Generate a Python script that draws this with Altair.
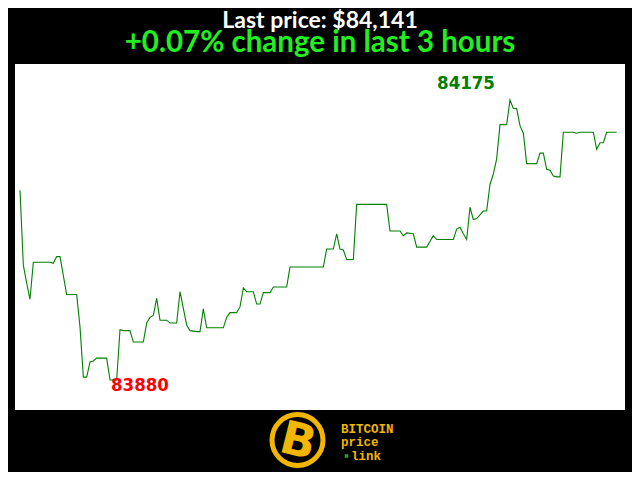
import altair as alt
import pandas as pd

# minute index within the last 3 hours (vertices of the price line)
minutes = [0, 1, 2, 3, 4, 9, 10, 11, 12, 14, 17, 18, 19, 20, 21, 22, 23, 26, 27, 29,
           30, 31, 33, 34, 37, 38, 39, 40, 41, 42, 44, 45, 47, 48, 50, 51, 53, 54, 55, 56,
           61, 62, 63, 65, 66, 67, 68, 70, 71, 72, 73, 75, 76, 80, 81, 91, 92, 94, 95, 96,
           97, 98, 100, 101, 110, 111, 114, 115, 116, 118, 119, 122, 124, 125, 126, 130, 131, 132, 133, 134,
           135, 136, 137, 138, 139, 140, 141, 142, 143, 144, 146, 147, 148, 149, 150, 151, 152, 155, 156, 157,
           158, 159, 160, 161, 162, 163, 166, 167, 168, 172, 173, 174, 175, 176, 179]
prices = [84080, 84001, 83982, 83965, 84004, 84004, 84003, 84010, 84010, 83970, 83970, 83936, 83883, 83883, 83899, 83900, 83903, 83903, 83880, 83880,
          83933, 83932, 83932, 83920, 83920, 83940, 83946, 83948, 83966, 83943, 83943, 83940, 83940, 83973, 83938, 83932, 83931, 83931, 83955, 83935,
          83935, 83946, 83951, 83951, 83957, 83977, 83973, 83973, 83960, 83960, 83972, 83972, 83978, 83978, 83999, 83999, 84018, 84018, 84034, 84018,
          84017, 84007, 84007, 84065, 84065, 84037, 84037, 84032, 84035, 84034, 84020, 84020, 84032, 84028, 84028, 84028, 84039, 84041, 84034, 84028,
          84062, 84049, 84050, 84054, 84058, 84058, 84086, 84097, 84113, 84149, 84149, 84175, 84166, 84166, 84148, 84140, 84108, 84108, 84119, 84119,
          84102, 84101, 84095, 84094, 84094, 84141, 84141, 84140, 84141, 84141, 84123, 84130, 84130, 84141, 84141]

title_text = "Last price: $84,141"
subtitle_text = "+0.07% change in last 3 hours"
max_label = ["84175"]
min_label = ["83880"]
logo_lines = ["BITCOIN", "price", "link"]

df = pd.DataFrame({"t": minutes, "p": prices})
imax = prices.index(max(prices))
imin = prices.index(min(prices))
df_max = pd.DataFrame({"t": [minutes[imax]], "p": [prices[imax]], "label": max_label})
df_min = pd.DataFrame({"t": [minutes[imin]], "p": [prices[imin]], "label": min_label})

W, H = 610, 346
xs = alt.Scale(domain=[-1.5, 181.5], nice=False, zero=False)
ys = alt.Scale(domain=[83848.4, 84212.9], nice=False, zero=False)

line = alt.Chart(df).mark_line(color="#008000", strokeWidth=1.1).encode(
    x=alt.X("t:Q", scale=xs, axis=None),
    y=alt.Y("p:Q", scale=ys, axis=None),
)

maxtxt = alt.Chart(df_max).mark_text(
    font="DejaVu Sans Condensed", fontWeight="bold", fontSize=18.5, color="#008000",
    align="center", baseline="middle", dx=-44, dy=-17,
).encode(x=alt.X("t:Q", scale=xs), y=alt.Y("p:Q", scale=ys), text="label:N")

mintxt = alt.Chart(df_min).mark_text(
    font="DejaVu Sans Condensed", fontWeight="bold", fontSize=18.5, color="#ff0000",
    align="left", baseline="middle", dx=1, dy=5,
).encode(x=alt.X("t:Q", scale=xs), y=alt.Y("p:Q", scale=ys), text="label:N")

tdf = pd.DataFrame({"txt": [title_text]})
title = alt.Chart(tdf).mark_text(
    font="Lato", fontWeight="bold", fontSize=23, color="white", align="center", baseline="alphabetic"
).encode(x=alt.value(W / 2), y=alt.value(-36.5), text="txt:N")

sdf = pd.DataFrame({"txt": [subtitle_text]})
subtitle = alt.Chart(sdf).mark_text(
    font="Lato", fontWeight="bold", fontSize=29.5, color="#22ee22", align="center", baseline="alphabetic"
).encode(x=alt.value(W / 2), y=alt.value(-12), text="txt:N")

gold = "#f2b600"
ldf = pd.DataFrame({"k": [1]})
ring = alt.Chart(ldf).mark_point(
    shape="circle", size=2600, filled=False, stroke=gold, strokeWidth=5, fill="black", fillOpacity=1
).encode(x=alt.value(282.5), y=alt.value(376))

bdf = pd.DataFrame({"txt": ["B"]})
bglyph = alt.Chart(bdf).mark_text(
    font="DejaVu Sans", fontWeight="bold", fontSize=46, color=gold, align="center", baseline="middle", angle=14
).encode(x=alt.value(283), y=alt.value(378), text="txt:N")

brand_df = pd.DataFrame({"txt": logo_lines, "xx": [326, 326, 336], "yy": [369, 382, 396]})
brand = alt.Chart(brand_df).mark_text(
    font="Liberation Mono", fontWeight="bold", fontSize=12.5, color=gold, align="left", baseline="alphabetic"
).encode(x=alt.X("xx:Q", scale=None), y=alt.Y("yy:Q", scale=None), text="txt:N")

dot = alt.Chart(ldf).mark_point(shape="square", size=12, filled=True, color="#22aa22", opacity=1).encode(
    x=alt.value(331.5), y=alt.value(392)
)

chart = alt.layer(line, maxtxt, mintxt, title, subtitle, ring, bglyph, brand, dot).properties(
    width=W, height=H,
    padding={"left": 7, "top": 56, "right": 7, "bottom": 62},
    autosize="none",
    background="black",
).configure_view(fill="white", stroke=None)

chart.save("out.html", embed_options={"renderer": "svg", "actions": False})
